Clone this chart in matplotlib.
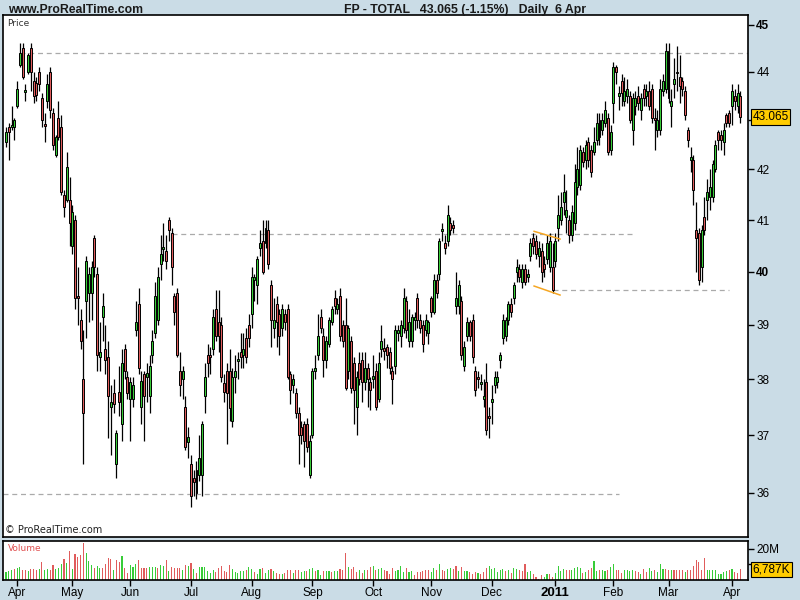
import matplotlib
matplotlib.use('Agg')
import matplotlib.pyplot as plt
import numpy as np
import pandas as pd

# daily OHLC, FP - TOTAL, 26 Mar 2010 .. 6 Apr 2011
opens = [42.55, 42.85, 42.85, 42.85, 43.3, 44.15, 44.5, 43.58, 44.0, 44.5,
         43.8, 43.77, 44.0, 43.45, 42.92, 43.4, 44.0, 43.15, 42.3, 43.05,
         42.85, 41.5, 41.4, 41.4, 40.5, 41.0, 39.55, 39.1, 38.0, 39.45,
         39.6, 39.6, 40.65, 39.95, 38.4, 39.15, 38.55, 38.4, 37.5, 37.75,
         36.5, 37.78, 37.2, 38.55, 38.05, 37.65, 37.65, 38.9, 39.4, 37.5,
         38.1, 38.05, 37.7, 38.45, 38.85, 39.1, 40.15, 40.43, 40.4, 41.0,
         40.75, 39.55, 39.6, 38.15, 38.0, 37.5, 36.88, 36.5, 36.25, 36.4,
         36.3, 36.3, 37.7, 38.45, 38.45, 38.55, 39.3, 39.05, 39.0, 37.93,
         38.15, 38.15, 37.25, 38.05, 38.33, 38.5, 38.45, 38.75, 39.0, 39.2,
         39.85, 39.75, 40.45, 40.6, 40.55, 40.8, 39.75, 38.95, 39.4, 39.2,
         38.95, 39.2, 39.3, 38.1, 37.9, 37.75, 37.4, 37.15, 37.2, 37.2,
         36.3, 37.0, 38.15, 38.45, 39.15, 38.8, 38.35, 38.65, 39.05, 39.5,
         39.3, 39.55, 39.0, 39.0, 38.15, 38.7, 38.3, 37.5, 38.3, 38.35,
         37.95, 38.2, 37.95, 38.0, 38.15, 37.65, 38.55, 38.58, 38.6, 38.5,
         38.15, 38.25, 38.85, 38.8, 38.95, 39.45, 38.7, 38.7, 39.1, 39.5,
         39.1, 39.0, 38.9, 38.85, 39.5, 39.25, 39.85, 39.95, 40.78, 40.55,
         40.6, 40.95, 40.9, 39.35, 39.35, 39.45, 38.25, 38.8, 39.05, 39.1,
         38.15, 38.05, 37.92, 37.65, 37.95, 37.35, 37.6, 37.9, 37.95, 38.35,
         38.75, 38.8, 39.1, 39.4, 39.5, 40.0, 40.05, 39.8, 40.05, 39.9,
         40.3, 40.65, 40.6, 40.3, 40.4, 40.15, 40.25, 40.1, 40.1, 40.2,
         40.85, 41.0, 41.35, 41.05, 41.0, 40.7, 40.95, 41.65, 41.7, 42.35,
         42.2, 42.55, 42.4, 42.35, 42.6, 43.0, 42.8, 42.95, 43.05, 42.4,
         43.35, 44.1, 43.5, 43.8, 43.4, 43.5, 43.5, 42.8, 43.3, 43.5,
         43.2, 43.65, 43.5, 43.6, 43.65, 43.05, 42.8, 42.8, 43.6, 43.65,
         44.45, 43.3, 43.75, 44.0, 43.9, 43.8, 43.6, 42.8, 42.2, 42.2,
         40.8, 40.75, 40.1, 41.05, 41.4, 41.45, 41.45, 42.0, 42.75, 42.7,
         42.55, 43.1, 43.15, 43.3, 43.5, 43.3, 43.5]

highs = [42.85, 42.95, 43.3, 43.05, 43.8, 44.6, 44.6, 43.75, 44.4, 44.6,
         44.0, 43.9, 44.1, 43.55, 43.15, 43.95, 44.1, 43.25, 42.7, 43.4,
         43.1, 41.6, 42.35, 41.85, 41.3, 41.1, 40.1, 39.3, 38.9, 40.3,
         40.1, 40.2, 40.7, 40.1, 39.05, 39.6, 39.0, 38.7, 37.9, 38.0,
         37.1, 38.25, 38.55, 38.65, 38.15, 38.05, 38.05, 39.45, 39.7, 38.15,
         38.15, 38.3, 38.45, 38.9, 39.8, 40.1, 40.7, 40.95, 40.7, 41.05,
         40.85, 39.6, 39.7, 38.5, 38.25, 37.7, 37.15, 36.65, 36.4, 36.55,
         37.0, 37.25, 38.3, 38.65, 38.6, 39.3, 39.65, 39.65, 39.15, 38.1,
         38.3, 38.55, 38.2, 38.45, 38.5, 38.85, 38.85, 38.95, 39.2, 40.1,
         39.95, 40.3, 40.8, 41.0, 41.0, 41.0, 39.85, 39.5, 39.55, 39.3,
         39.4, 39.3, 39.4, 38.15, 38.1, 37.85, 37.5, 37.25, 37.25, 37.3,
         37.0, 38.2, 38.45, 39.2, 39.3, 38.95, 38.8, 39.15, 39.35, 39.65,
         39.5, 39.7, 39.1, 39.5, 39.0, 38.8, 38.4, 38.15, 38.5, 38.5,
         38.5, 38.3, 38.05, 38.45, 38.3, 38.5, 39.0, 38.75, 38.65, 38.6,
         38.25, 39.0, 39.0, 39.1, 39.7, 39.55, 39.3, 39.2, 39.25, 39.6,
         39.2, 39.1, 39.2, 39.1, 39.55, 39.95, 39.95, 40.65, 40.95, 40.7,
         41.3, 41.05, 41.0, 40.0, 39.85, 39.55, 38.7, 39.15, 39.1, 39.2,
         38.25, 38.15, 38.1, 38.0, 38.3, 37.5, 37.9, 38.15, 38.15, 38.5,
         39.2, 39.15, 39.45, 39.5, 39.8, 40.25, 40.15, 40.15, 40.15, 40.05,
         40.65, 40.75, 40.7, 40.6, 40.55, 40.3, 40.7, 40.75, 40.55, 40.75,
         41.5, 41.55, 41.9, 41.6, 41.1, 41.3, 42.1, 42.45, 42.5, 42.45,
         42.6, 42.65, 42.5, 42.85, 43.15, 43.15, 43.15, 43.4, 43.15, 42.9,
         44.2, 44.15, 43.7, 43.95, 43.9, 43.85, 43.6, 43.55, 43.6, 43.7,
         43.55, 43.75, 43.75, 43.8, 43.75, 43.25, 43.2, 43.85, 43.95, 44.6,
         44.6, 43.65, 44.3, 44.55, 44.35, 43.9, 43.7, 42.85, 42.45, 42.3,
         41.35, 40.85, 40.9, 41.45, 41.8, 42.0, 42.2, 42.6, 42.8, 42.8,
         42.95, 43.15, 43.2, 43.75, 43.65, 43.75, 43.6]

lows = [42.45, 42.2, 42.8, 42.6, 43.25, 44.1, 43.85, 43.4, 43.95, 43.6,
        43.35, 43.4, 43.6, 42.85, 42.55, 43.25, 43.05, 42.4, 42.25, 42.6,
        41.5, 41.05, 41.35, 40.5, 40.35, 39.3, 39.0, 38.55, 36.5, 38.75,
        39.05, 39.1, 39.9, 38.15, 38.15, 38.7, 38.1, 36.95, 36.65, 37.4,
        36.25, 37.35, 36.9, 38.0, 37.65, 36.9, 37.5, 38.8, 38.1, 37.2,
        36.9, 37.6, 37.4, 38.3, 38.75, 39.0, 39.85, 40.2, 40.05, 40.6,
        39.75, 39.0, 38.4, 37.7, 37.65, 36.75, 36.6, 35.75, 35.95, 35.9,
        36.2, 35.95, 37.4, 38.05, 38.1, 38.45, 38.7, 38.5, 37.95, 37.6,
        36.85, 37.25, 37.15, 37.75, 38.0, 38.2, 38.2, 38.3, 38.6, 38.95,
        39.45, 39.4, 40.3, 39.95, 40.45, 40.05, 38.6, 38.75, 38.6, 38.45,
        38.8, 38.9, 38.0, 37.55, 37.75, 37.3, 36.5, 36.85, 36.45, 36.7,
        36.25, 36.95, 38.0, 38.35, 38.85, 38.05, 38.2, 38.6, 39.0, 39.2,
        39.2, 38.7, 38.6, 37.8, 38.0, 37.75, 37.2, 37.0, 37.9, 37.6,
        37.8, 37.5, 37.45, 37.85, 37.45, 37.6, 38.4, 38.35, 38.2, 38.1,
        37.55, 38.1, 38.7, 38.6, 38.85, 38.75, 38.6, 38.6, 38.9, 38.95,
        38.85, 38.5, 38.8, 38.65, 39.15, 39.2, 39.5, 39.85, 40.6, 40.35,
        40.5, 40.7, 40.75, 39.2, 39.2, 38.35, 38.15, 38.7, 38.7, 38.3,
        37.7, 37.85, 37.8, 37.5, 37.0, 36.95, 37.2, 37.75, 37.85, 38.2,
        38.65, 38.7, 39.0, 39.15, 39.4, 39.8, 39.8, 39.7, 39.75, 39.8,
        40.2, 40.35, 40.25, 40.1, 39.8, 39.9, 40.15, 40.0, 39.6, 40.1,
        40.6, 40.9, 41.1, 40.75, 40.55, 40.6, 40.8, 41.5, 41.6, 42.05,
        42.0, 42.05, 41.85, 42.3, 42.5, 42.5, 42.7, 42.85, 42.3, 42.3,
        42.95, 43.75, 43.2, 43.3, 43.3, 43.35, 42.95, 42.5, 43.1, 43.2,
        43.0, 43.3, 43.3, 43.2, 42.95, 42.4, 42.65, 42.7, 43.5, 43.55,
        43.35, 42.85, 43.45, 43.6, 43.35, 43.5, 43.0, 42.45, 41.95, 41.3,
        40.0, 39.75, 39.8, 40.7, 41.0, 41.2, 41.35, 41.95, 42.4, 42.4,
        42.3, 42.85, 42.85, 42.9, 43.2, 43.15, 42.95]

closes = [42.75, 42.75, 42.9, 43.0, 43.65, 44.4, 43.9, 43.62, 44.35, 44.0,
          43.5, 43.52, 43.75, 43.0, 42.88, 43.75, 43.2, 42.5, 42.65, 42.65,
          41.55, 41.25, 42.05, 40.95, 41.15, 39.5, 39.5, 38.7, 37.4, 40.2,
          39.95, 40.1, 40.1, 38.45, 38.5, 39.35, 38.35, 37.7, 37.6, 37.55,
          37.05, 37.6, 38.3, 38.15, 37.75, 37.95, 37.9, 39.05, 38.2, 37.97,
          37.7, 38.12, 38.25, 38.7, 39.55, 39.9, 40.35, 40.47, 40.2, 40.8,
          40.1, 39.25, 38.45, 37.9, 38.15, 36.8, 36.97, 35.95, 36.18, 36.0,
          36.6, 37.2, 38.05, 38.3, 38.4, 39.15, 38.8, 38.8, 38.05, 37.78,
          37.75, 37.48, 38.05, 38.15, 38.37, 38.4, 38.55, 38.4, 38.75, 39.9,
          39.9, 40.25, 40.55, 40.0, 40.85, 40.15, 39.1, 39.1, 39.05, 38.8,
          39.3, 39.05, 38.05, 37.8, 38.0, 37.4, 37.0, 37.0, 36.9, 36.8,
          36.9, 38.15, 38.2, 38.8, 38.95, 38.35, 38.7, 39.1, 39.3, 39.35,
          39.4, 38.8, 38.7, 37.85, 38.95, 37.85, 37.8, 38.05, 38.0, 37.95,
          38.2, 38.0, 37.8, 38.07, 37.5, 38.3, 38.7, 38.52, 38.45, 38.2,
          38.0, 38.9, 38.9, 39.0, 39.5, 38.9, 39.05, 39.15, 39.15, 39.1,
          38.95, 38.65, 39.1, 39.05, 39.25, 39.85, 39.6, 40.6, 40.82, 40.45,
          41.1, 40.8, 40.85, 39.5, 39.75, 38.45, 38.6, 39.05, 38.8, 38.4,
          37.8, 38.0, 37.95, 37.7, 37.1, 37.3, 37.65, 38.05, 38.05, 38.45,
          39.1, 39.1, 39.4, 39.25, 39.75, 40.1, 39.9, 40.05, 39.8, 39.95,
          40.55, 40.5, 40.35, 40.45, 40.0, 40.05, 40.55, 40.6, 39.65, 40.6,
          41.1, 41.25, 41.55, 41.2, 40.7, 41.15, 41.75, 42.0, 42.4, 42.15,
          42.5, 42.2, 41.95, 42.55, 42.95, 42.65, 43.0, 43.2, 42.35, 42.75,
          44.1, 44.0, 43.55, 43.55, 43.6, 43.65, 43.0, 43.45, 43.45, 43.35,
          43.45, 43.45, 43.6, 43.3, 43.05, 43.0, 43.0, 43.65, 43.8, 44.45,
          43.45, 43.4, 43.85, 43.98, 43.7, 43.65, 43.1, 42.6, 42.25, 41.6,
          40.65, 39.85, 40.8, 40.8, 41.55, 41.65, 42.1, 42.5, 42.6, 42.6,
          42.8, 42.95, 42.95, 43.6, 43.4, 43.55, 43.065]

# volume in millions of shares
volumes = [5.1, 5.8, 6.4, 7.3, 7.5, 8.3, 6.6, 6.6, 5.8, 7.1,
           6.8, 6.6, 7.1, 11.5, 6.6, 7.3, 6.6, 9.6, 7.3, 7.7,
           10.3, 13.7, 11.1, 18.6, 7.1, 16.9, 15.0, 16.2, 23.7, 17.5,
           12.2, 9.4, 7.5, 9.0, 7.7, 7.9, 10.3, 13.9, 13.2, 6.4,
           12.8, 11.8, 15.4, 7.9, 4.7, 9.6, 8.5, 10.0, 12.8, 7.7,
           7.7, 7.7, 8.3, 8.3, 8.5, 7.7, 9.4, 9.0, 12.8, 5.8,
           8.3, 7.7, 7.7, 7.7, 6.2, 9.6, 9.0, 10.9, 6.8,
           4.5, 8.3, 8.3, 8.3, 5.8, 4.5, 6.4, 5.1, 7.7, 9.0,
           5.8, 5.1, 9.6, 7.1, 5.1, 4.5, 5.8, 5.8, 6.4, 8.3,
           7.1, 5.1, 3.8, 7.1, 7.7, 4.5, 6.4, 7.1, 5.8, 4.5,
           3.8, 3.8, 4.5, 6.4, 6.4, 4.5, 6.4, 6.4, 5.1, 5.8,
           5.8, 7.1, 7.7, 5.8, 6.4, 3.2, 5.8, 5.8, 5.8, 5.1,
           5.8, 5.8, 7.1, 6.4, 17.3, 8.3, 7.1, 8.3, 5.1, 6.4,
           4.5, 6.4, 6.4, 8.3, 9.0, 6.4, 7.1, 7.7, 6.4, 5.8,
           3.8, 7.7,
           5.8, 6.4, 9.0, 5.1, 7.7, 5.1, 5.8, 3.2, 5.1, 5.1,
           5.8, 6.4, 6.4, 5.1, 7.7, 6.4, 10.3, 6.4, 5.8, 7.1,
           7.7, 7.1, 9.0, 5.8, 8.3, 5.8, 5.8, 5.1, 3.8, 5.1,
           4.5, 3.8, 5.1, 7.7, 9.0, 7.1, 7.7, 5.1, 6.4, 7.1,
           6.0, 6.4, 4.5, 7.7, 7.1, 6.4, 5.8, 10.3, 5.1, 5.8,
           3.8, 1.9, 0.6, 3.2, 1.9, 3.8, 3.8, 1.9, 4.5, 9.0,
           5.8, 7.1, 6.4, 6.4, 6.4, 7.7, 8.3, 7.7, 4.5, 5.1,
           6.4,
           7.7, 12.2, 5.8, 6.4, 6.4, 5.8, 6.4, 8.3, 10.3, 6.4,
           6.4, 4.5, 6.4, 6.4, 5.8, 6.4, 5.8, 5.1, 3.8, 7.1,
           5.1, 7.7, 5.8, 6.4, 5.1, 10.3, 7.3, 7.3, 6.4, 6.4,
           6.4, 6.4, 6.4, 6.4, 5.1, 6.4, 6.4, 9.0, 12.8, 11.5,
           6.4, 14.1, 6.4, 6.4, 6.4, 6.4, 3.8, 3.8, 5.1, 5.8,
           6.4, 7.1, 5.1, 4.5, 6.787]
vol_dirs = ("gggrggrrgr" "rrgrggrrgg" "grgrgrrrrg" "ggrggrrrrg" "rrgrrgggrr"
            "rrgggrggrg" "rrrrgrgrg"
            "rggggggrrr" "rrrgggggrg" "grggrggrgr" "rgrrrgrrgg" "rggrggrggr"
            "ggrrrgrrrg" "rgrrgrggrr" "rr"
            "ggggrggrrr" "rrrggrgrrg" "grrgrggrrr" "grrrgggggg" "rgrggrrrgg"
            "rrrrggrrgg" "ggrrggggrg" "r"
            "rggrggrggr" "rrggggrrgr" "rggrgggrrg" "rrrrgrrrrr" "rrgggggggg"
            "rgrrr")

# horizontal support / resistance lines (price, from bar, to bar)
level_prices = [44.4, 40.73, 39.66, 35.98]
level_from = [5, 60, 198, -1]
level_to = [269, 228, 262, 222]
# orange channel drawn in December
chan_x = [191.3, 200.7]
chan_upper = [40.78, 40.63]
chan_lower = [39.73, 39.56]

price_ticks = [36, 37, 38, 39, 40, 41, 42, 43, 44, 45]
last_price = 43.065

days = pd.bdate_range('2010-03-26', '2011-04-06')
days = days.drop(pd.to_datetime(['2010-04-02', '2010-04-05']))
x = np.arange(len(closes))

o = np.array(opens); h = np.array(highs); l = np.array(lows); c = np.array(closes)
up = c >= o
GREEN = '#38CC38'
RED = '#E05C5C'
BG = '#CADCE6'

fig = plt.figure(figsize=(8, 6), dpi=100, facecolor=BG)
ax = fig.add_axes([3/800, 63/600, 745/800, 522/600])
axv = fig.add_axes([3/800, 20/600, 745/800, 39/600])

ax.vlines(x, l, h, color='black', linewidth=0.9, zorder=2)
body_lo = np.minimum(o, c)
body_h = np.maximum(np.abs(c - o), 0.015)
ax.bar(x, body_h, bottom=body_lo, width=0.72,
       color=np.where(up, GREEN, RED), edgecolor='black', linewidth=0.7, zorder=3)

for p, a, b in zip(level_prices, level_from, level_to):
    ax.plot([a, b], [p, p], color='#AAAAAA', linestyle=(0, (4, 3)), linewidth=0.9, zorder=1)
ax.plot(chan_x, chan_upper, color='#F5A623', linewidth=1.1, zorder=4)
ax.plot(chan_x, chan_lower, color='#F5A623', linewidth=1.1, zorder=4)

ax.set_yscale('log')
ax.set_ylim(35.25, 45.21)
ax.set_xlim(-1.1, 268.8)
ax.yaxis.tick_right()
ax.set_yticks(price_ticks)
# the 43 label sits under the last-price box, as in the original
ax.set_yticklabels(['' if t == 43 else str(t) for t in price_ticks])
ax.yaxis.set_minor_locator(matplotlib.ticker.NullLocator())
ax.tick_params(axis='y', direction='out', length=4, width=1, labelsize=8.5, pad=2)
for lab in ax.get_yticklabels():
    lab.set_fontfamily('Liberation Sans')
    if lab.get_text() in ('45', '40'):
        lab.set_fontweight('bold')
ax.set_xticks([])
for s in ax.spines.values():
    s.set_linewidth(1.2)

ax.text(1.006, last_price, f'{last_price:.3f}', transform=ax.get_yaxis_transform(),
        va='center', ha='left', fontsize=8.5, family='Liberation Sans', zorder=10,
        bbox=dict(boxstyle='square,pad=0.15', fc='#FFCC00', ec='black', lw=0.8))
ax.text(0.006, 0.992, 'Price', transform=ax.transAxes, va='top', ha='left',
        fontsize=6.5, color='#333333', family='DejaVu Sans')
ax.text(0.003, 0.004, '© ProRealTime.com', transform=ax.transAxes, va='bottom', ha='left',
        fontsize=7, color='#222222', family='DejaVu Sans')

vcol = [GREEN if d == 'g' else RED for d in vol_dirs]
axv.bar(x, volumes, width=0.4, color=vcol, linewidth=0)
axv.set_xlim(-1.1, 268.8)
axv.set_ylim(0, 25)
axv.yaxis.tick_right()
axv.set_yticks([10, 20])
axv.set_yticklabels(['', '20M'])
axv.tick_params(axis='y', direction='out', length=4, width=1, labelsize=8.5, pad=2)
for lab in axv.get_yticklabels():
    lab.set_fontfamily('Liberation Sans')
for s in axv.spines.values():
    s.set_linewidth(1.2)
axv.text(1.006, volumes[-1], '6,787K', transform=axv.get_yaxis_transform(),
         va='center', ha='left', fontsize=8.5, family='Liberation Sans', zorder=10,
         bbox=dict(boxstyle='square,pad=0.15', fc='#FFCC00', ec='black', lw=0.8))
axv.text(0.006, 0.93, 'Volume', transform=axv.transAxes, va='top', ha='left',
         fontsize=6.5, color='#E05050', family='DejaVu Sans')

# month ticks on the first trading day of each month
month_pos, month_lab = [], []
prev = None
for i, d in enumerate(days):
    if prev is not None and d.month != prev:
        month_pos.append(i)
        month_lab.append(str(d.year) if d.month == 1 else d.strftime('%b'))
    prev = d.month
axv.set_xticks(month_pos)
axv.set_xticklabels(month_lab)
axv.tick_params(axis='x', direction='out', length=4, width=1, labelsize=8.5, pad=1)
for lab in axv.get_xticklabels():
    lab.set_fontfamily('Liberation Sans')
    if lab.get_text() == '2011':
        lab.set_fontweight('bold')
        lab.set_fontsize(9.5)

hdr = ['Liberation Sans Narrow', 'Liberation Sans', 'DejaVu Sans']
fig.text(8/800, 1 - 10/600, 'www.ProRealTime.com', va='center', ha='left',
         fontsize=8.8, fontweight='bold', color='#1A1A1A', family=hdr)
fig.text(465/800, 1 - 10/600, 'FP - TOTAL   43.065 (-1.15%)   Daily  6 Apr', va='center',
         ha='center', fontsize=8.8, fontweight='bold', color='#1A1A1A', family=hdr)

fig.savefig('out.png', dpi=100, facecolor=BG)
